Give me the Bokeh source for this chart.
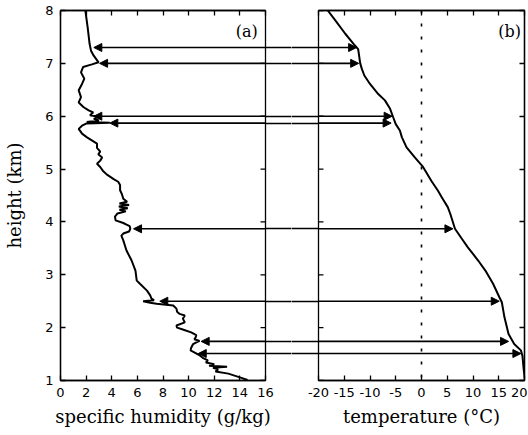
from bokeh.plotting import figure
from bokeh.layouts import row
from bokeh.models import (Range1d, LinearAxis, FixedTicker, Arrow, NormalHead,
                          Span, Label, ColumnDataSource, CustomJSTickFormatter)
from bokeh.embed import file_html
from bokeh.resources import INLINE

# ---------------- data ----------------
hum_height = [8.00, 7.68, 7.37, 7.24, 7.15, 7.02, 6.98, 6.93, 6.83, 6.71, 6.61, 6.49,
              6.36, 6.26, 6.17, 6.11, 6.07, 6.02, 5.99, 5.95, 5.92, 5.89, 5.875, 5.86,
              5.82, 5.76, 5.67, 5.60, 5.48, 5.40, 5.33, 5.28, 5.22, 5.16, 5.10, 5.04,
              4.97, 4.90, 4.81, 4.76, 4.70, 4.60, 4.52, 4.44, 4.38, 4.35, 4.32, 4.29,
              4.26, 4.23, 4.20, 4.16, 4.10, 4.03, 3.98, 3.95, 3.92, 3.87, 3.82, 3.78,
              3.74, 3.65, 3.46, 3.27, 3.08, 2.89, 2.83, 2.70, 2.61, 2.55, 2.52, 2.50,
              2.47, 2.45, 2.42, 2.36, 2.30, 2.26, 2.23, 2.17, 2.10, 2.04, 2.00, 1.96,
              1.91, 1.86, 1.82, 1.78, 1.75, 1.72, 1.69, 1.62, 1.57, 1.52, 1.47, 1.43,
              1.38, 1.34, 1.31, 1.28, 1.26, 1.24, 1.21, 1.17, 1.13, 1.06, 1.01]
hum_q = [1.94, 2.12, 2.27, 2.38, 2.58, 2.97, 2.45, 1.76, 1.60, 1.86, 1.68, 1.42,
         1.60, 1.42, 1.81, 2.20, 2.55, 2.30, 3.00, 2.60, 3.00, 2.05, 3.85, 2.00,
         1.68, 1.42, 1.68, 2.07, 2.85, 2.85, 3.10, 2.95, 3.25, 3.10, 2.85, 3.10,
         3.30, 3.60, 4.15, 4.50, 4.65, 4.65, 4.80, 4.90, 5.20, 4.60, 5.35, 4.55,
         5.25, 4.60, 5.10, 4.45, 4.25, 4.30, 4.90, 5.15, 5.40, 5.45, 5.35, 4.90,
         4.75, 4.90, 5.15, 5.55, 5.85, 5.95, 6.20, 6.75, 7.00, 7.10, 7.30, 6.45,
         7.00, 7.50, 8.80, 9.05, 9.10, 9.30, 9.70, 9.55, 9.70, 9.05, 9.10, 9.60,
         10.20, 10.60, 10.55, 10.45, 10.85, 10.60, 10.35, 10.20, 10.15, 10.55, 10.90, 11.10,
         11.50, 11.35, 12.00, 11.60, 13.00, 11.90, 12.30, 12.10, 13.10, 14.00, 14.60]

temp_height = [8.00, 7.81, 7.56, 7.37, 7.27, 7.00, 6.90, 6.77, 6.61, 6.42, 6.30, 6.14,
               5.98, 5.85, 5.73, 5.60, 5.41, 5.22, 5.04, 4.78, 4.59, 4.47, 4.28, 4.15,
               3.87, 3.70, 3.52, 3.27, 3.08, 2.83, 2.58, 2.48, 2.20, 1.88, 1.69, 1.57,
               1.47, 1.25, 1.00]
temp_T = [-18.2, -16.7, -14.8, -13.2, -12.3, -11.9, -11.6, -11.1, -10.0, -8.4, -7.1, -6.1,
          -5.5, -5.0, -4.2, -3.8, -2.9, -1.3, 0.3, 1.9, 3.2, 3.9, 5.1, 5.6,
          6.5, 7.7, 9.0, 11.0, 12.4, 13.9, 15.1, 15.6, 16.1, 16.9, 18.0, 19.3,
          19.6, 19.8, 20.1]

arrow_height = [7.30, 7.00, 6.00, 5.87, 3.87, 2.50, 1.74, 1.51]
arrow_q = [2.60, 3.05, 2.60, 3.85, 5.70, 7.75, 10.98, 10.75]
arrow_T = [-12.6, -12.2, -5.7, -5.9, 6.1, 15.1, 16.9, 19.3]

height_ticks = [1, 2, 3, 4, 5, 6, 7, 8]
q_ticks = [0, 2, 4, 6, 8, 10, 12, 14, 16]
T_ticks = [-20, -15, -10, -5, 0, 5, 10, 15, 20]
T_tick_labels = ["-20", "-15", "-10", "-5", "0", "5", "10", "15", "20"]

# ---------------- layout constants ----------------
A_LEFT, A_FRAME_W, A_RIGHT = 60, 206, 25      # A_RIGHT + B_LEFT = gap between panels
B_LEFT, B_FRAME_W, B_RIGHT = 26, 207, 3
TOP, FRAME_H, BOTTOM = 10, 370, 54
TICK_LEN = 5
LW_FRAME = 1.3
LW_ARROW = 1.6

TICK_FONT = "DejaVu Sans"
LABEL_FONT = "DejaVu Serif"


def style_main_axis(ax, ticks, label):
    ax.ticker = FixedTicker(ticks=ticks)
    ax.major_tick_in = TICK_LEN
    ax.major_tick_out = 0
    ax.minor_tick_line_color = None
    ax.axis_line_width = LW_FRAME
    ax.major_tick_line_width = LW_FRAME
    ax.major_label_text_font = TICK_FONT
    ax.major_label_text_font_size = "13px"
    ax.major_label_text_color = "black"
    ax.axis_label = label
    ax.axis_label_text_font = LABEL_FONT
    ax.axis_label_text_font_size = "18px"
    ax.axis_label_text_font_style = "normal"
    ax.axis_label_text_color = "black"


def blank_axis(ticks, tick_in, tick_out, line_color="black", width=LW_FRAME):
    return LinearAxis(ticker=FixedTicker(ticks=ticks), major_tick_in=tick_in,
                      major_tick_out=tick_out, minor_tick_line_color=None,
                      major_label_text_font_size="0px", major_label_standoff=0,
                      axis_line_color=line_color, axis_line_width=LW_FRAME,
                      major_tick_line_width=width,
                      formatter=CustomJSTickFormatter(code="return ''"))


def base_fig(width, x_range, left, right, **kw):
    p = figure(width=width, height=TOP + FRAME_H + BOTTOM, x_range=x_range,
               y_range=Range1d(1, 8), output_backend="svg", toolbar_location=None, tools="",
               min_border_left=left, min_border_right=right,
               min_border_top=TOP, min_border_bottom=BOTTOM, **kw)
    p.grid.visible = False
    p.background_fill_color = "white"
    p.border_fill_color = "white"
    p.outline_line_color = "black"
    p.outline_line_width = LW_FRAME
    return p


head = dict(size=8, fill_color="black", line_color="black", line_width=1)

# ---------------- panel (a) ----------------
pa = base_fig(A_LEFT + A_FRAME_W + A_RIGHT, Range1d(0, 16), A_LEFT, A_RIGHT)
style_main_axis(pa.xaxis[0], q_ticks, "specific humidity (g/kg)")
pa.xaxis[0].major_label_standoff = 7
pa.xaxis[0].axis_label_standoff = 6
style_main_axis(pa.yaxis[0], height_ticks, "height (km)")
pa.yaxis[0].major_label_standoff = 7
pa.yaxis[0].axis_label_standoff = 17
pa.add_layout(blank_axis(q_ticks, TICK_LEN, 0), "above")
# arrow shafts continuing across the gap on the right of panel (a)
pa.add_layout(blank_axis(arrow_height, 0, A_RIGHT + 1, line_color=None, width=LW_ARROW), "right")

# inward ticks on the right edge of panel (a)
a_tick = TICK_LEN * 16 / A_FRAME_W
pa.segment(x0=[16 - a_tick] * len(height_ticks), y0=height_ticks,
           x1=[16] * len(height_ticks), y1=height_ticks,
           line_color="black", line_width=LW_FRAME)

pa.line(hum_q, hum_height, line_color="black", line_width=2)

src_a = ColumnDataSource(dict(q=arrow_q, h=arrow_height, e=[17] * len(arrow_q)))
pa.add_layout(Arrow(start=NormalHead(**head), end=None,
                    x_start="q", y_start="h", x_end="e", y_end="h",
                    line_color="black", line_width=LW_ARROW, source=src_a))
pa.add_layout(Label(x=15.4, y=7.6, text="(a)", text_align="right", text_baseline="middle",
                    text_font=LABEL_FONT, text_font_size="16px", text_color="black"))

# ---------------- panel (b) ----------------
pb = base_fig(B_LEFT + B_FRAME_W + B_RIGHT, Range1d(-20, 20), B_LEFT, B_RIGHT,
              y_axis_location=None)
style_main_axis(pb.xaxis[0], T_ticks, "temperature (°C)")
pb.xaxis[0].major_label_overrides = dict(zip(T_ticks, T_tick_labels))
pb.xaxis[0].major_label_standoff = 7
pb.xaxis[0].axis_label_standoff = 6
pb.add_layout(blank_axis(T_ticks, TICK_LEN, 0), "above")
pb.add_layout(blank_axis(height_ticks, TICK_LEN, 0), "right")
# arrow shafts continuing across the gap on the left of panel (b)
pb.add_layout(blank_axis(arrow_height, 0, B_LEFT + 1, line_color=None, width=LW_ARROW), "left")

# inward ticks on the left edge of panel (b)
b_tick = TICK_LEN * 40 / B_FRAME_W
pb.segment(x0=[-20] * len(height_ticks), y0=height_ticks,
           x1=[-20 + b_tick] * len(height_ticks), y1=height_ticks,
           line_color="black", line_width=LW_FRAME)

pb.add_layout(Span(location=0, dimension="height", line_color="black",
                   line_dash="3 10", line_width=1.6))
pb.line(temp_T, temp_height, line_color="black", line_width=2)

src_b = ColumnDataSource(dict(t=arrow_T, h=arrow_height, s=[-25] * len(arrow_T)))
pb.add_layout(Arrow(end=NormalHead(**head), start=None,
                    x_start="s", y_start="h", x_end="t", y_end="h",
                    line_color="black", line_width=LW_ARROW, source=src_b))
pb.add_layout(Label(x=19.3, y=7.6, text="(b)", text_align="right", text_baseline="middle",
                    text_font=LABEL_FONT, text_font_size="16px", text_color="black"))

layout = row(pa, pb)
open("out.html", "w").write(file_html(layout, INLINE))
